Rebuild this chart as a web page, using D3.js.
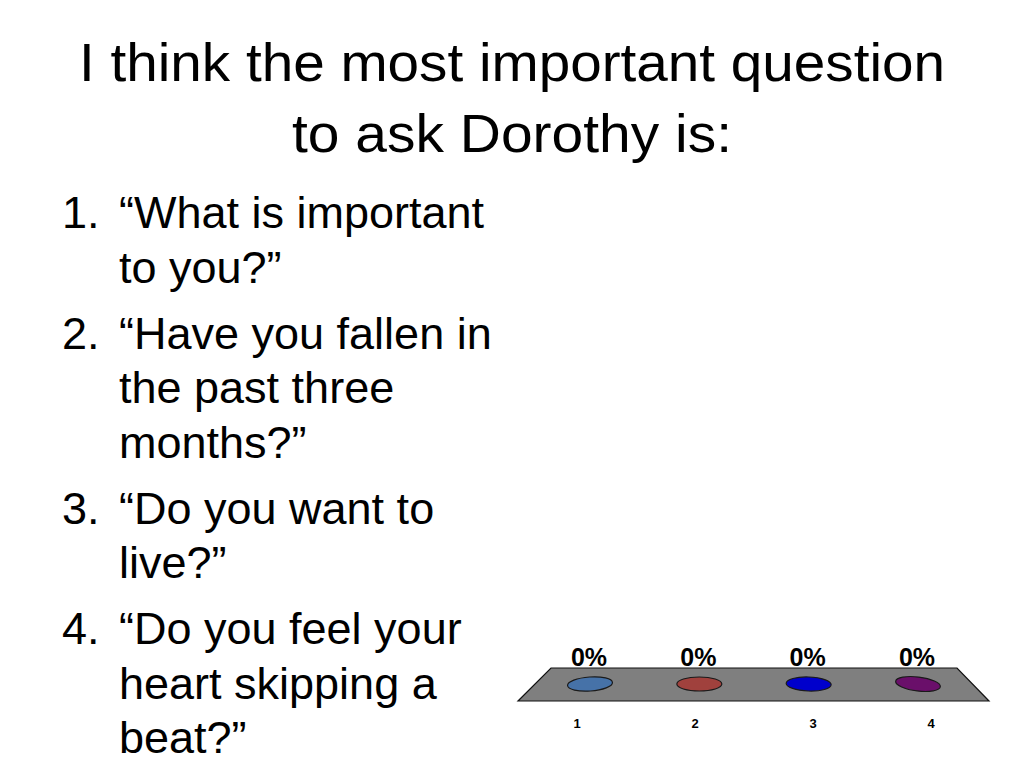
<!DOCTYPE html>
<html>
<head>
<meta charset="utf-8">
<script src="https://cdn.jsdelivr.net/npm/d3@7"></script>
<style>
  body { margin: 0; background: #fff; }
  svg { display: block; }
</style>
</head>
<body>
<div id="root"></div>
<script>
// slide title
let titleLines = ["I think the most important question", "to ask Dorothy is:"];

// answer options (numbered list)
let options = [
  ["\u201cWhat is important", "to you?\u201d"],
  ["\u201cHave you fallen in", "the past three", "months?\u201d"],
  ["\u201cDo you want to", "live?\u201d"],
  ["\u201cDo you feel your", "heart skipping a", "beat?\u201d"]
];

// poll results
let categories = ["1", "2", "3", "4"];
let percents = [0, 0, 0, 0];
let colors = ["#4672a8", "#a0413d", "#0000cc", "#6a0f6a"];

let width = 1024, height = 768;

let svg = d3
  .select("#root")
  .append("svg")
  .attr("width", width)
  .attr("height", height);

// title, squeezed a bit like the condensed slide font
let titleWidths = [866, 440];
svg
  .selectAll("text.title")
  .data(titleLines)
  .enter()
  .append("text")
  .attr("class", "title")
  .attr("x", width / 2)
  .attr("y", (d, i) => 81 + i * 71)
  .attr("text-anchor", "middle")
  .attr("font-family", "'Liberation Sans Narrow', 'Liberation Sans', Arial, sans-serif")
  .attr("font-size", 53)
  .attr("textLength", (d, i) => titleWidths[i])
  .attr("lengthAdjust", "spacingAndGlyphs")
  .text((d) => d);

// numbered list
let lineGap = 54.5, itemGap = 66;
let yPos = 228;
options.forEach((lines, i) => {
  svg
    .append("text")
    .attr("x", 62)
    .attr("y", yPos)
    .attr("font-family", "'Liberation Sans', Arial, sans-serif")
    .attr("font-size", 45)
    .text((i + 1) + ".");
  lines.forEach((line, j) => {
    svg
      .append("text")
      .attr("x", 119)
      .attr("y", yPos + j * lineGap)
      .attr("font-family", "'Liberation Sans', Arial, sans-serif")
      .attr("font-size", 45)
      .text(line);
  });
  yPos += (lines.length - 1) * lineGap + itemGap;
});

// ---- 3D-ish poll chart ----
let floorTop = 668, floorBottom = 701;
let x = d3.scalePoint().domain(categories).range([590, 918]);
let xFront = d3.scalePoint().domain(categories).range([577, 931]);
let y = d3.scaleLinear().domain([0, 100]).range([684, 480]);

// floor
svg
  .append("path")
  .attr("d", d3.line()([[551, floorTop], [957, floorTop], [989, floorBottom], [518, floorBottom]]) + "Z")
  .attr("fill", "#7f7f7f")
  .attr("stroke", "#111")
  .attr("stroke-width", 1.2);

let tilt = [-4, 0, 2, 7];
let bars = svg
  .selectAll("g.bar")
  .data(categories)
  .enter()
  .append("g")
  .attr("class", "bar");

// cylinder body (zero height here)
bars
  .append("rect")
  .attr("x", (d) => x(d) - 23)
  .attr("y", (d, i) => y(percents[i]))
  .attr("width", 46)
  .attr("height", (d, i) => y(0) - y(percents[i]))
  .attr("fill", (d, i) => colors[i]);

// cylinder top
bars
  .append("ellipse")
  .attr("cx", (d) => x(d))
  .attr("cy", (d, i) => y(percents[i]))
  .attr("rx", 22.5)
  .attr("ry", 7)
  .attr("transform", (d, i) => "rotate(" + tilt[i] + "," + x(d) + "," + y(percents[i]) + ")")
  .attr("fill", (d, i) => colors[i])
  .attr("stroke", "#1a1a1a")
  .attr("stroke-width", 1.2);

// percent labels
bars
  .append("text")
  .attr("x", (d) => x(d) - 1)
  .attr("y", (d, i) => y(percents[i]) - 18)
  .attr("text-anchor", "middle")
  .attr("font-family", "'Liberation Sans', Arial, sans-serif")
  .attr("font-weight", "bold")
  .attr("font-size", 25)
  .text((d, i) => percents[i] + "%");

// category labels
svg
  .selectAll("text.cat")
  .data(categories)
  .enter()
  .append("text")
  .attr("class", "cat")
  .attr("x", (d) => xFront(d))
  .attr("y", 728)
  .attr("text-anchor", "middle")
  .attr("font-family", "'Liberation Sans', Arial, sans-serif")
  .attr("font-weight", "bold")
  .attr("font-size", 13)
  .text((d) => d);
</script>
</body>
</html>
